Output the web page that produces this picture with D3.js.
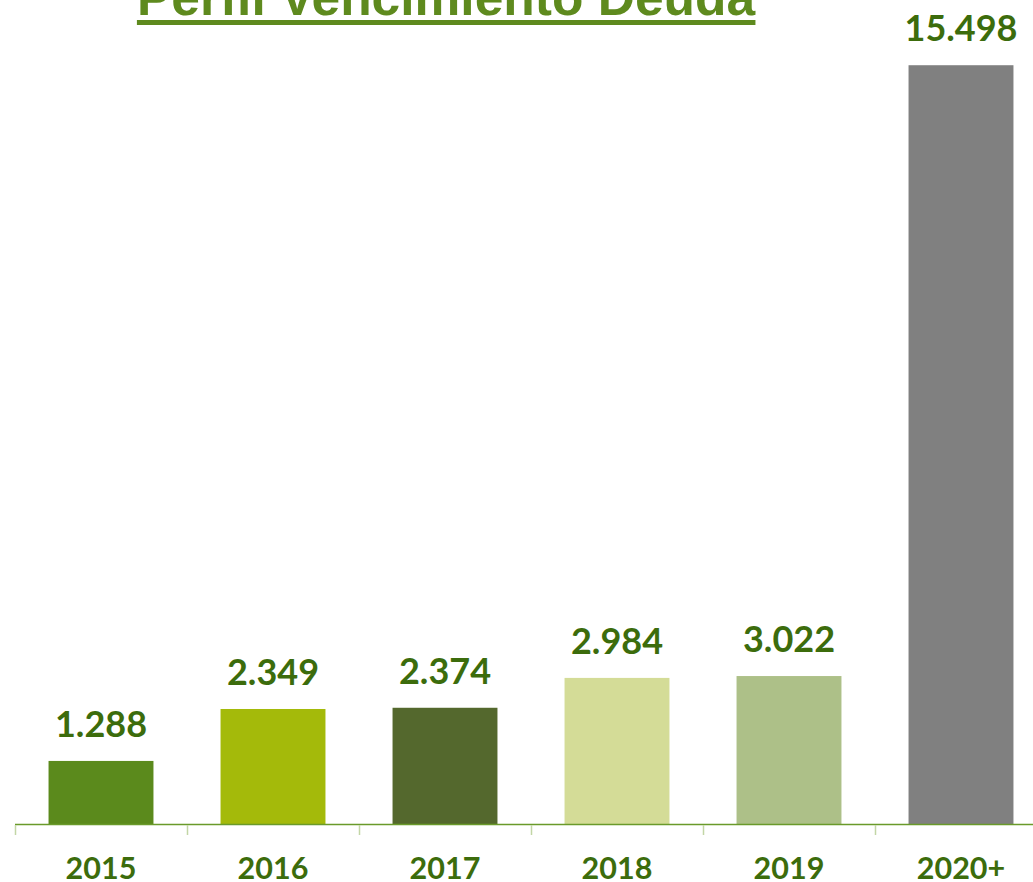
<!DOCTYPE html>
<html lang="es">
<head>
<meta charset="utf-8">
<title>Perfil Vencimiento Deuda</title>
<script src="https://d3js.org/d3.v7.min.js"></script>
<style>
    body { margin: 0; background: #fff; overflow: hidden; }
    .title { font: bold 51.5px "Liberation Sans", Arial, sans-serif; fill: #5e8a1e; }
    .val { font: bold 36px Lato, sans-serif; fill: #3c6c0c; }
    .cat { font: bold 30.5px Lato, sans-serif; fill: #3c6c0c; }
</style>
</head>
<body>
<div id="chart"></div>
<script>
    var years = ["2015", "2016", "2017", "2018", "2019", "2020+"];
    var amounts = [1.288, 2.349, 2.374, 2.984, 3.022, 15.498];
    var labels = ["1.288", "2.349", "2.374", "2.984", "3.022", "15.498"];
    var colors = ["#5b8a1c", "#a4ba0a", "#54682d", "#d4dc97", "#adc088", "#808080"];

    var width = 1033, height = 882;
    var baseY = 824;

    var svg = d3.select("#chart")
        .append("svg")
        .attr("width", width)
        .attr("height", height);

    var x = d3.scaleBand()
        .domain(years)
        .range([15, 1047])
        .paddingInner(0.39)
        .paddingOuter(0.195);

    var y = d3.scaleLinear()
        .domain([0, 16.83])
        .range([baseY, 0]);

    // title (cut off at the top like the original slide)
    var title = svg.append("text")
        .attr("class", "title")
        .attr("x", 446)
        .attr("y", 15)
        .attr("text-anchor", "middle")
        .text("Perfil Vencimiento Deuda");
    var tb = title.node().getBBox();
    svg.append("rect")
        .attr("x", tb.x)
        .attr("y", 20)
        .attr("width", tb.width)
        .attr("height", 5)
        .attr("fill", "#5e8a1e");

    // bars
    svg.selectAll("rect.bar")
        .data(amounts)
        .enter()
        .append("rect")
        .attr("class", "bar")
        .attr("x", function (d, i) { return x(years[i]); })
        .attr("y", function (d) { return y(d); })
        .attr("width", x.bandwidth())
        .attr("height", function (d) { return baseY - y(d); })
        .attr("fill", function (d, i) { return colors[i]; });

    // value labels
    svg.selectAll("text.val")
        .data(amounts)
        .enter()
        .append("text")
        .attr("class", "val")
        .attr("x", function (d, i) { return x(years[i]) + x.bandwidth() / 2; })
        .attr("y", function (d) { return y(d) - 24; })
        .attr("text-anchor", "middle")
        .text(function (d, i) { return labels[i]; });

    // axis: line, ticks between categories, labels
    var step = x.step();
    svg.append("line")
        .attr("x1", 15).attr("x2", width)
        .attr("y1", baseY + 0.5).attr("y2", baseY + 0.5)
        .attr("stroke", "#6a9a2a")
        .attr("stroke-width", 1.5);

    svg.selectAll("line.tick")
        .data(years)
        .enter()
        .append("line")
        .attr("class", "tick")
        .attr("x1", function (d) { return Math.round(x(d) - step * 0.195) + 0.5; })
        .attr("x2", function (d) { return Math.round(x(d) - step * 0.195) + 0.5; })
        .attr("y1", baseY + 1)
        .attr("y2", baseY + 11)
        .attr("stroke", "#c3d6a6")
        .attr("stroke-width", 1.5);

    svg.selectAll("text.cat")
        .data(years)
        .enter()
        .append("text")
        .attr("class", "cat")
        .attr("x", function (d) { return x(d) + x.bandwidth() / 2; })
        .attr("y", 879)
        .attr("text-anchor", "middle")
        .text(function (d) { return d; });
</script>
</body>
</html>
